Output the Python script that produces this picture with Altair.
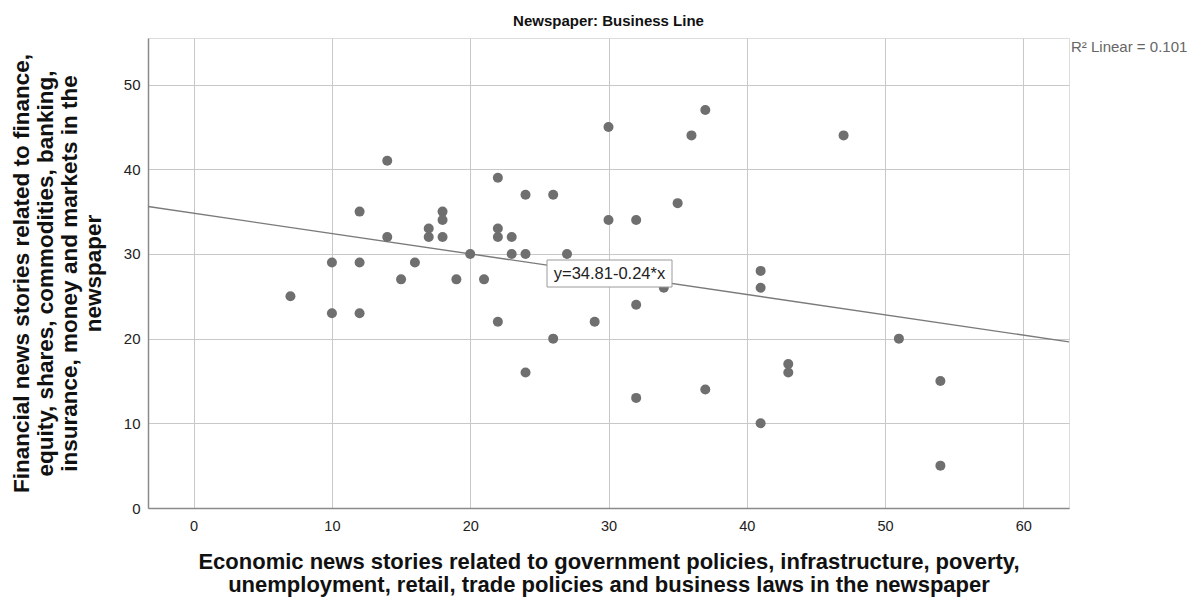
import altair as alt
import pandas as pd

# Data
econ_x = [7, 10, 10, 12, 12, 12, 14, 14, 15, 16,
          17, 17, 18, 18, 18, 19, 20, 21, 22, 22,
          22, 22, 23, 23, 24, 24, 24, 26, 26, 27,
          29, 30, 30, 32, 32, 32, 34, 35, 36, 37,
          37, 41, 41, 41, 43, 43, 47, 51, 54, 54]
fin_y = [25, 29, 23, 35, 29, 23, 41, 32, 27, 29,
         33, 32, 35, 34, 32, 27, 30, 27, 39, 33,
         32, 22, 32, 30, 37, 30, 16, 37, 20, 30,
         22, 45, 34, 34, 24, 13, 26, 36, 44, 47,
         14, 28, 26, 10, 17, 16, 44, 20, 15, 5]

# Fit line shown in the reference label
intercept = 34.81
slope = -0.24
x_domain = [-3.3, 63.3]
y_domain = [0, 55.5]
x_ticks = [0, 10, 20, 30, 40, 50, 60]
y_ticks = [0, 10, 20, 30, 40, 50]

title_text = "Newspaper: Business Line"
x_title = ["Economic news stories related to government policies, infrastructure, poverty,",
           "unemployment, retail, trade policies and business laws in the newspaper"]
y_title = ["Financial news stories related to finance,",
           "equity, shares, commodities, banking,",
           "insurance, money and markets in the",
           "newspaper"]
eq_label = "y=34.81-0.24*x"
r2_label = "R\u00b2 Linear = 0.101"

pts = pd.DataFrame({"x": econ_x, "y": fin_y})
line_df = pd.DataFrame({"x": x_domain})

W, H = 921, 470
FONT = "Liberation Sans"

xscale = alt.Scale(domain=x_domain, nice=False, zero=False)
yscale = alt.Scale(domain=y_domain, nice=False, zero=False)

xaxis = alt.Axis(values=x_ticks, title=x_title, grid=True, gridColor="#c8c8c8",
                 ticks=False, domainColor="#8a8a8a", domainWidth=1.5,
                 labelFont=FONT, labelFontSize=14.5, labelColor="#222",
                 labelPadding=11,
                 titleFont=FONT, titleFontSize=22, titleFontWeight="bold",
                 titleColor="#111", titlePadding=19, titleLineHeight=23)
yaxis = alt.Axis(values=y_ticks, title=y_title, grid=True, gridColor="#c8c8c8",
                 ticks=False, domainColor="#8a8a8a", domainWidth=1.5,
                 labelFont=FONT, labelFontSize=15, labelColor="#222",
                 labelPadding=8,
                 titleFont=FONT, titleFontSize=22.5, titleFontWeight="bold",
                 titleColor="#111", titlePadding=18, titleLineHeight=24)

points = alt.Chart(pts).mark_circle(size=100, color="#6f6f6f", opacity=1).encode(
    x=alt.X("x:Q", scale=xscale, axis=xaxis),
    y=alt.Y("y:Q", scale=yscale, axis=yaxis),
)

fit = alt.Chart(line_df).transform_calculate(
    yfit=f"{intercept} + ({slope}) * datum.x"
).mark_line(color="#7a7a7a", strokeWidth=1.4, clip=True).encode(
    x=alt.X("x:Q", scale=xscale),
    y=alt.Y("yfit:Q", scale=yscale),
)

box = alt.Chart(pd.DataFrame({"t": [eq_label]})).mark_rect(
    fill="white", stroke="#9a9a9a", strokeWidth=1
).encode(
    x=alt.value(399), x2=alt.value(524), y=alt.value(222), y2=alt.value(249)
)
eq = alt.Chart(pd.DataFrame({"t": [eq_label]})).mark_text(
    font=FONT, fontSize=16.5, color="#222", align="center", baseline="middle"
).encode(x=alt.value(461.5), y=alt.value(236), text="t:N")

r2 = alt.Chart(pd.DataFrame({"t": [r2_label]})).mark_text(
    font=FONT, fontSize=15, color="#666", align="left", baseline="middle"
).encode(x=alt.value(W + 2), y=alt.value(9), text="t:N")

chart = alt.layer(fit, points, box, eq, r2).properties(
    width=W, height=H,
    title=alt.Title(title_text, font=FONT, fontSize=15, fontWeight="bold",
                    color="#111", anchor="middle", offset=9),
    autosize=alt.AutoSizeParams(type="none"),
    padding={"left": 148, "top": 38, "right": 120, "bottom": 93},
).configure_view(stroke=None).configure(background="white")

chart.save("out.html", embed_options={"renderer": "svg", "actions": False})
